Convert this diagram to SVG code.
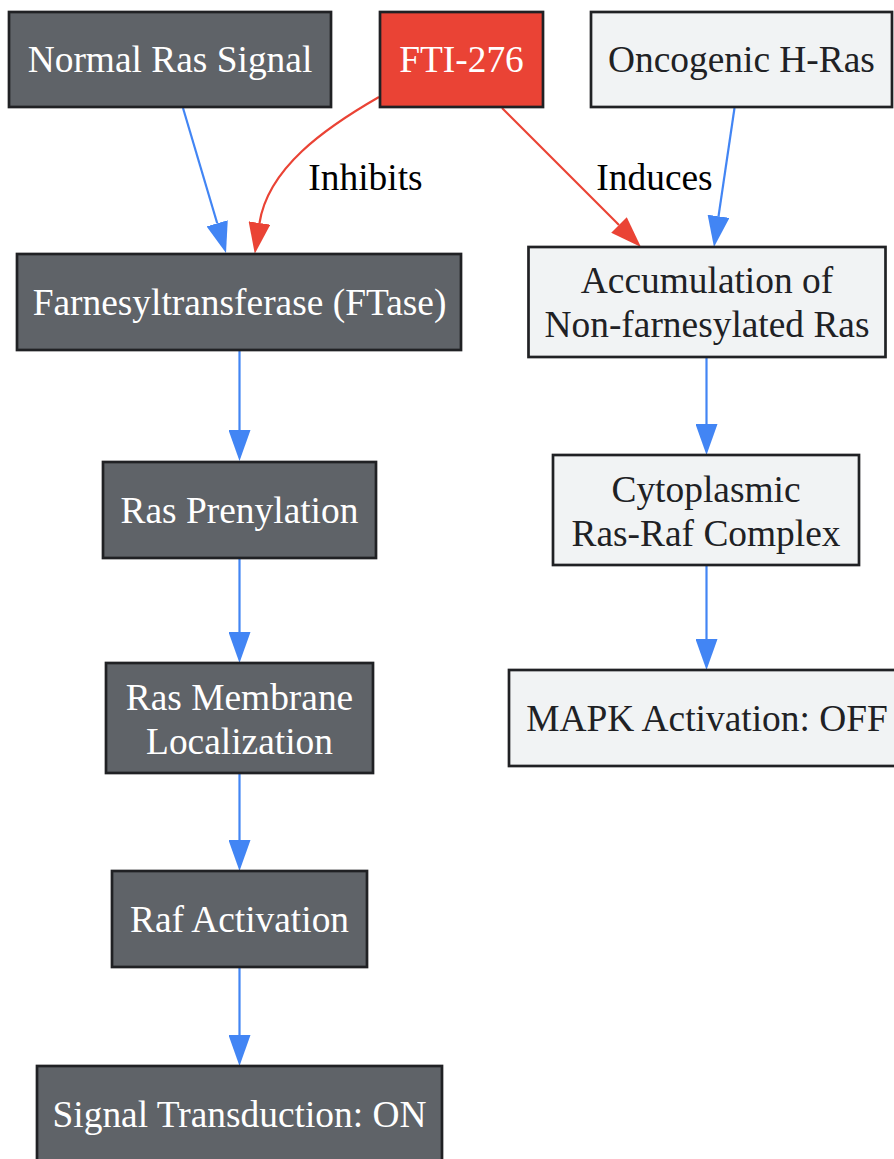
<svg xmlns="http://www.w3.org/2000/svg" width="894" height="1159" viewBox="0 0 894 1159">
<style>
.dark rect{fill:#5f6368;stroke:#202124;stroke-width:2.7}
.light rect{fill:#f1f3f4;stroke:#202124;stroke-width:2.7}
.red rect{fill:#ea4335;stroke:#202124;stroke-width:2.7}
text{font-family:"Liberation Serif","Times New Roman",serif;font-size:37.4px;text-anchor:middle}
.dark text,.red text{fill:#ffffff}
.light text{fill:#202124}
.lbl{fill:#000000}
.eb{fill:none;stroke:#4285f4;stroke-width:2.2}
.er{fill:none;stroke:#ea4335;stroke-width:2.2}
</style>
<defs>
<marker id="ab" markerUnits="userSpaceOnUse" markerWidth="32" markerHeight="22" refX="0" refY="11" orient="auto" viewBox="0 0 32 22"><path d="M0,0 L31,11 L0,22 z" fill="#4285f4"/></marker>
<marker id="ar" markerUnits="userSpaceOnUse" markerWidth="32" markerHeight="22" refX="0" refY="11" orient="auto" viewBox="0 0 32 22"><path d="M0,0 L31,11 L0,22 z" fill="#ea4335"/></marker>
</defs>
<rect width="894" height="1159" fill="#ffffff"/>
<g id="connectors">
<path class="eb" d="M183,108 L217.2,223.3" marker-end="url(#ab)"/>
<path class="er" d="M379,97 C325,128 268,168 259.5,223" marker-end="url(#ar)"/>
<text class="lbl" x="365.5" y="190">Inhibits</text>
<path class="er" d="M502,108 L619,225" marker-end="url(#ar)"/>
<text class="lbl" x="654.5" y="190">Induces</text>
<path class="eb" d="M734.5,108 L718.5,216.3" marker-end="url(#ab)"/>
<path class="eb" d="M239.5,351 L239.5,430" marker-end="url(#ab)"/>
<path class="eb" d="M239.5,559 L239.5,632" marker-end="url(#ab)"/>
<path class="eb" d="M239.5,774 L239.5,840" marker-end="url(#ab)"/>
<path class="eb" d="M239.5,968 L239.5,1035" marker-end="url(#ab)"/>
<path class="eb" d="M706.5,357 L706.5,424" marker-end="url(#ab)"/>
<path class="eb" d="M706.5,566 L706.5,639" marker-end="url(#ab)"/>
</g>
<g id="normal" class="dark"><rect x="9" y="12" width="322" height="95"/><text x="170" y="72">Normal Ras Signal</text></g>
<g id="fti" class="red"><rect x="380" y="12" width="163" height="95"/><text x="461.5" y="72">FTI-276</text></g>
<g id="oncogenic" class="light"><rect x="591" y="12" width="301" height="95"/><text x="741.5" y="72">Oncogenic H-Ras</text></g>
<g id="ftase" class="dark"><rect x="17" y="254" width="444" height="96"/><text x="239.5" y="315">Farnesyltransferase (FTase)</text></g>
<g id="accum" class="light"><rect x="528.5" y="247" width="357" height="110"/><text x="707" y="293">Accumulation of</text><text x="707" y="337">Non-farnesylated Ras</text></g>
<g id="prenyl" class="dark"><rect x="103" y="462" width="273" height="96"/><text x="239.5" y="523">Ras Prenylation</text></g>
<g id="cyto" class="light"><rect x="553" y="455" width="306" height="110"/><text x="706" y="502">Cytoplasmic</text><text x="706" y="546">Ras-Raf Complex</text></g>
<g id="membrane" class="dark"><rect x="106" y="663" width="267" height="110"/><text x="239.5" y="710">Ras Membrane</text><text x="239.5" y="754">Localization</text></g>
<g id="mapk" class="light"><rect x="509" y="670" width="396" height="96"/><text x="707" y="731">MAPK Activation: OFF</text></g>
<g id="raf" class="dark"><rect x="112" y="871" width="255" height="96"/><text x="239.5" y="932">Raf Activation</text></g>
<g id="signal" class="dark"><rect x="37" y="1066" width="405" height="96"/><text x="239.5" y="1127">Signal Transduction: ON</text></g>
</svg>
